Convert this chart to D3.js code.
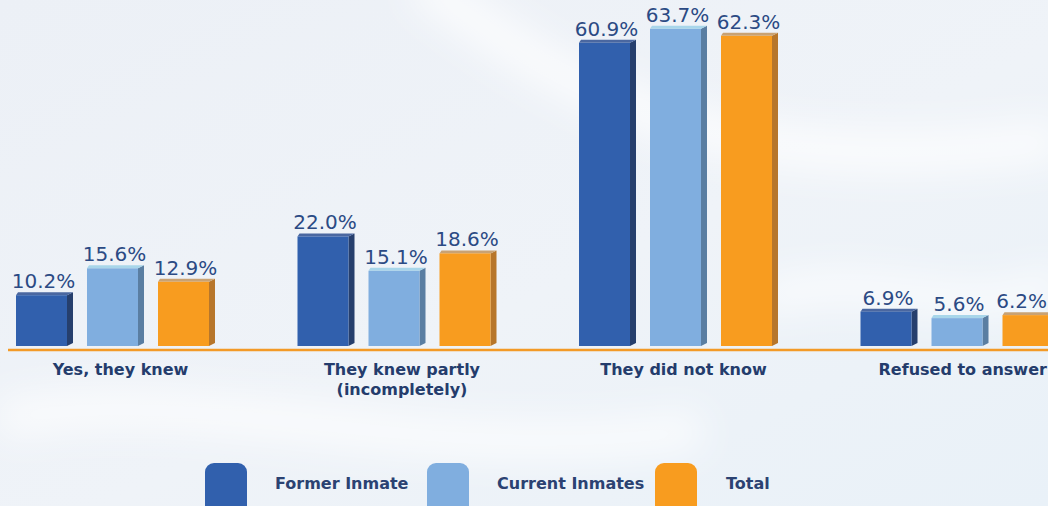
<!DOCTYPE html>
<html>
<head>
<meta charset="utf-8">
<script src="https://cdn.jsdelivr.net/npm/d3@7/dist/d3.min.js"></script>
<style>
  html, body { margin: 0; padding: 0; background: #eef3f9; }
  svg { display: block; }
</style>
</head>
<body>
<svg id="chart" width="1048" height="506"></svg>
<script>
// Survey answers, grouped by respondent type
const categories = [["Yes, they knew"], ["They knew partly", "(incompletely)"], ["They did not know"], ["Refused to answer"]];
const seriesNames = ["Former Inmate", "Current Inmates", "Total"];
const formerInmate = [10.2, 22.0, 60.9, 6.9];
const currentInmates = [15.6, 15.1, 63.7, 5.6];
const totalValues = [12.9, 18.6, 62.3, 6.2];

const seriesValues = [formerInmate, currentInmates, totalValues];
const palette = [
  { front: "#3160ad", side: "#263f6d", top: "#4a67a0" },
  { front: "#80aedf", side: "#5a7ea2", top: "#a8d6ea" },
  { front: "#f89c1f", side: "#b7762b", top: "#c9a273" }
];

const W = 1048, H = 506;
const svg = d3.select("#chart");
const defs = svg.append("defs");

// Soft pale backdrop
const bg = defs.append("linearGradient").attr("id", "bg").attr("x1", 0).attr("y1", 0).attr("x2", 1).attr("y2", 1);
bg.append("stop").attr("offset", "0%").attr("stop-color", "#ecf0f6");
bg.append("stop").attr("offset", "55%").attr("stop-color", "#eff3f8");
bg.append("stop").attr("offset", "100%").attr("stop-color", "#e9f1f8");
svg.append("rect").attr("width", W).attr("height", H).attr("fill", "url(#bg)");

defs.append("filter").attr("id", "soft").append("feGaussianBlur").attr("stdDeviation", 18);
const swirls = svg.append("g").attr("filter", "url(#soft)").attr("fill", "none").attr("stroke", "#ffffff").attr("stroke-opacity", 0.75);
swirls.append("path").attr("d", "M 420 -20 C 600 120, 760 180, 1060 140").attr("stroke-width", 40);
swirls.append("path").attr("d", "M 0 420 C 200 380, 420 470, 700 430").attr("stroke-width", 36);
swirls.append("path").attr("d", "M 760 300 C 880 260, 960 330, 1060 280").attr("stroke-width", 30);

const baseY = 346;
const x0 = d3.scaleBand()
  .domain(d3.range(categories.length))
  .range([16, 16 + 4 * 281.5])
  .paddingInner(0);
const x1 = d3.scaleBand()
  .domain(d3.range(seriesNames.length))
  .range([0, 193])
  .paddingInner(20 / 71)
  .paddingOuter(0);
const y = d3.scaleLinear().domain([0, 69.5]).range([baseY, 0]);

const depthX = 6, depthY = 3;

// Baseline
svg.append("line")
  .attr("x1", 8).attr("x2", W)
  .attr("y1", 350).attr("y2", 350)
  .attr("stroke", "#f39a27").attr("stroke-width", 2.5);

// Keep a text element inside the right edge of the canvas
function keepInside(sel) {
  const node = sel.node();
  const box = node.getBBox();
  const ctm = node.getCTM();
  const right = ctm.e + box.x + box.width;
  if (right > W - 1) {
    const shift = right - (W - 1);
    sel.attr("transform", `translate(${-shift},0)`);
  }
}

// Bars drawn as flat prisms
const groups = svg.append("g").selectAll("g")
  .data(categories.map((c, i) => i))
  .join("g")
  .attr("transform", i => `translate(${x0(i)},0)`);

groups.each(function(ci) {
  const g = d3.select(this);
  seriesValues.forEach((vals, si) => {
    const v = vals[ci];
    const bx = x1(si), bw = x1.bandwidth();
    const top = y(v), bot = y(0);
    const col = palette[si];
    g.append("path")
      .attr("d", `M${bx + bw},${top} L${bx + bw + depthX},${top - depthY} L${bx + bw + depthX},${bot - depthY} L${bx + bw},${bot} Z`)
      .attr("fill", col.side);
    g.append("path")
      .attr("d", `M${bx},${top} L${bx + 2},${top - depthY} L${bx + bw + depthX},${top - depthY} L${bx + bw},${top} Z`)
      .attr("fill", col.top);
    g.append("rect")
      .attr("x", bx).attr("y", top)
      .attr("width", bw).attr("height", bot - top)
      .attr("fill", col.front);
    const t = g.append("text")
      .attr("x", bx + bw / 2 + 2)
      .attr("y", top - 7)
      .attr("text-anchor", "middle")
      .attr("font-family", "DejaVu Sans")
      .attr("font-weight", "normal")
      .attr("font-size", 20)
      .attr("fill", "#2b4a84")
      .text(v.toFixed(1) + "%");
    keepInside(t);
  });
  // Category label
  const lbl = g.append("text")
    .attr("x", 193 / 2 + 8)
    .attr("text-anchor", "middle")
    .attr("font-family", "DejaVu Sans")
    .attr("font-weight", "bold")
    .attr("font-size", 16)
    .attr("fill", "#243c6c");
  categories[ci].forEach((line, li) => {
    lbl.append("tspan")
      .attr("x", 193 / 2 + 8)
      .attr("y", 375 + li * 20)
      .text(line);
  });
  keepInside(lbl);
});

// Legend
const legendX = [205, 427, 655];
const legendTextX = [275, 497, 726];
const legend = svg.append("g");
seriesNames.forEach((name, i) => {
  legend.append("rect")
    .attr("x", legendX[i]).attr("y", 463)
    .attr("width", 42).attr("height", 52)
    .attr("rx", 9)
    .attr("fill", palette[i].front);
  legend.append("text")
    .attr("x", legendTextX[i]).attr("y", 489)
    .attr("font-family", "DejaVu Sans")
    .attr("font-weight", "bold")
    .attr("font-size", 16)
    .attr("fill", "#2b4272")
    .text(name);
});
</script>
</body>
</html>
